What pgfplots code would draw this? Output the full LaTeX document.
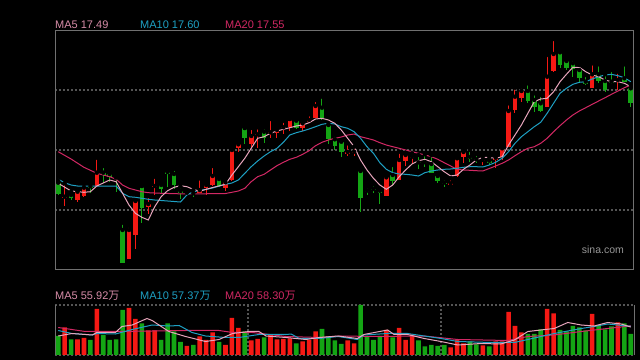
\documentclass[border=0pt]{standalone}
\usepackage{fontspec}
\setmainfont{Liberation Sans}
\newfontfamily\cjk{Noto Sans CJK SC}
\usepackage{pgfplots}
\usepackage{pgfplotstable}
\pgfplotsset{compat=1.18}

\definecolor{cred}{RGB}{245,25,20}
\definecolor{cgreen}{RGB}{20,165,20}
\definecolor{cma5}{RGB}{232,165,188}
\definecolor{cma5t}{RGB}{215,140,168}
\definecolor{cma10}{RGB}{30,160,195}
\definecolor{cma20}{RGB}{210,40,100}
\definecolor{cframe}{RGB}{112,112,112}
\definecolor{cgrid}{RGB}{85,85,85}

% candles: pixel rows (top of body, bottom of body, high, low)
\pgfplotstableread{
i top bot hi lo
1 196.7 198 183.3 205.7
3 191.7 200 190.7 202
4 187.7 195.7 184 197.3
6 172.7 186 157.7 186
11 230 258.7 226 258.7
12 201 234.7 200 249
14 204 206.7 196 214
15 186 187 176.7 195
20 192.7 193.7 190 196
22 190 193.3 178.3 193.3
23 185 188.3 182.3 195
24 176 185 166 185.7
26 182.3 188.3 178.3 190.7
27 150 180 147.3 181
28 144.3 148.3 141 152.3
30 136 144.3 128 147.7
31 134.3 135.3 127.3 147.7
33 132.3 133.3 119 138.3
34 130 132.7 127.3 138.3
35 127.3 128.3 120.7 134.3
36 119 127.3 119 131
38 123.3 128.3 120 131
39 120 121.7 114.3 123.3
40 106 117.7 100 118.3
45 152 153.7 143.3 156
46 151.7 152.7 146.7 156
51 177.3 195.7 175 195.7
53 160 180 151.7 180
54 155 160.7 152.7 166
55 156.7 157.7 153.3 164.3
61 183.3 185 178.3 185
62 158.3 176 157.7 176.7
63 152 156.7 149.3 163.3
66 160 161 156.7 165
68 157.7 160 155 168.3
69 148.3 156.7 146.7 160
70 111 146.7 103.3 146.7
71 96.7 110 87.7 113.3
72 91 98.3 86.7 101.7
76 76.7 106.7 55 106.7
77 54 71 39 72.3
83 74.3 87.7 63.3 88.3
87 80 82.3 71.7 90
}\redk

\pgfplotstableread{
i top bot hi lo
0 182.7 194 181 195
2 195 197.7 191.7 200
5 186.3 187.7 182.7 193.3
7 172.7 174.7 166 182.7
8 174 177.3 171.7 181.7
9 177.5 178.5 176.7 191.7
10 230 262.7 222.7 262.7
13 186 207.7 186 222.7
16 185 189 182.7 193.3
17 172 173.7 171 186.7
18 174 185 169 189.3
19 191 192.7 186.7 199.3
21 193.3 194.3 190 196.7
25 179 185.7 177.3 186.7
29 128 137.7 128 144.3
32 131.7 138.3 127.3 142.7
37 120.7 127.7 118.3 129.3
41 107.7 118.3 96.7 120
42 125 139.3 124.3 144.3
43 139.3 145.7 135 150
44 141.7 151.7 140 156.7
47 171 197.7 170 211.7
48 190.7 191.7 186.7 195
49 189 190 184.3 192.7
50 190.7 193.3 189 204
52 175 180.7 165 185
56 162.3 163.3 155 169.3
57 162.3 163.3 154.3 166.7
58 164 172.7 155 173.3
59 176 180.7 173.3 183.3
60 182.7 183.7 178.3 187.3
64 157 159 150 162.3
65 159.3 160.3 154 163.3
67 160.7 162.7 156.7 165
73 91 101 83.3 103.3
74 100 106.7 93.3 111.7
75 103.3 111 95 111.7
78 52.3 65 50 67.7
79 61 68.3 57.7 70
80 63.3 69.3 59 76.7
81 70 78.3 65 83.3
82 81.7 84.3 75 85
84 74.3 81 64.3 83.3
85 81 90 74.3 91.7
86 81.7 83.3 70 84.3
88 78.3 81.7 64.3 82.3
89 88.3 103.3 85 106.7
}\greenk

\pgfplotstableread{
i v
1 55
3 31
4 34
6 92
11 94
12 72
14 49
15 49
20 18
22 37
23 30
24 45
26 20
27 74
28 54
30 29
31 32
33 40
34 31
35 32
36 33
38 27
39 30
40 47
45 29
46 23
51 50
53 54
54 30
55 41
61 15
62 30
63 23
66 19
68 27
69 27
70 86
71 58
72 45
76 92
77 83
83 82
87 65
}\redv

\pgfplotstableread{
i v
0 38
2 31
5 30
7 40
8 30
9 31
10 90
13 63
16 30
17 63
18 47
19 26
21 20
25 26
29 47
32 35
37 23
41 52
42 37
43 29
44 22
47 100
48 37
49 30
50 38
52 35
56 29
57 17
58 20
59 18
60 20
64 27
65 21
67 17
73 42
74 42
75 51
78 50
79 47
80 58
81 55
82 49
84 58
85 51
86 57
88 63
89 42
}\greenv

\begin{document}
\begin{tikzpicture}
\fill[black] (0,0) rectangle (640bp,360bp);

% ---------- price panel ----------
\begin{axis}[
  at={(55bp,91bp)}, anchor=south west, scale only axis,
  width=579bp, height=239bp,
  xmin=-0.5, xmax=89.5, ymin=30, ymax=269, y dir=reverse,
  axis line style={draw=cframe, line width=1bp},
  xtick=\empty, ytick={90,150,210}, yticklabels={},
  major tick length=0pt,
  ymajorgrids, major grid style={draw=cgrid, line width=1.3bp, dash pattern=on 2bp off 2bp},
]
% wicks
\addplot[forget plot, only marks, mark=none,
  error bars/.cd, y dir=plus, y explicit, error mark=none,
  error bar style={draw=cred, line width=1bp}]
  table[x=i, y=hi, y error plus expr=\thisrow{lo}-\thisrow{hi}] {\redk};
\addplot[forget plot, only marks, mark=none,
  error bars/.cd, y dir=plus, y explicit, error mark=none,
  error bar style={draw=cgreen, line width=1bp}]
  table[x=i, y=hi, y error plus expr=\thisrow{lo}-\thisrow{hi}] {\greenk};
% bodies
\addplot[forget plot, only marks, mark=none,
  error bars/.cd, y dir=plus, y explicit, error mark=none,
  error bar style={draw=cred, line width=4.6bp}]
  table[x=i, y=top, y error plus expr=\thisrow{bot}-\thisrow{top}] {\redk};
\addplot[forget plot, only marks, mark=none,
  error bars/.cd, y dir=plus, y explicit, error mark=none,
  error bar style={draw=cgreen, line width=4.6bp}]
  table[x=i, y=top, y error plus expr=\thisrow{bot}-\thisrow{top}] {\greenk};
% MA20
\addplot[cma20, line width=1bp, mark=none] coordinates {
(0,151.7)(2,159)(4,167.3)(6,173.3)(8,176.7)(9,179.3)(10,185)(11,188.3)(12,190)(13,191.7)(14,192.7)(16,193.3)(20,194)(26,193.5)(27,192.3)(28,191)(29,188.3)(30,181.7)(31,176.7)(32,174.3)(33,170)(34,165.7)(35,162.3)(36,159.3)(37,157.3)(38,154.3)(39,150.7)(40,145.7)(41,142.3)(42,140)(43,138.3)(44,137)(45,135)(46,134)(47,136.7)(48,138.3)(49,140)(50,142.7)(51,145)(52,146.7)(53,148.3)(54,150)(55,151.7)(56,153.3)(57,155)(58,156.7)(59,159.3)(60,162.7)(61,166)(62,169.3)(63,170)(64,170.3)(65,170.7)(66,171)(67,168.5)(68,166)(69,163.3)(70,160)(71,155.7)(72,151.7)(73,148.3)(74,146.7)(75,143.3)(76,138.3)(77,131.7)(78,125.7)(79,120)(80,115)(81,111)(82,107.7)(83,104.3)(84,101)(85,97.7)(86,94.3)(87,91)(88,87.7)(89,85)};
% MA10
\addplot[cma10, line width=1bp, mark=none] coordinates {
(0,179.3)(1,182.7)(2,185)(3,186)(9,186)(10,193.3)(11,196.7)(12,197.3)(13,198.3)(14,199.3)(15,200)(17,201)(19,202)(20,195)(21,191.7)(22,190.5)(24,188)(26,184.3)(27,183)(28,180)(29,173.3)(30,166.7)(31,161)(32,156)(33,151.7)(34,148.3)(35,142.3)(36,135)(37,132.7)(38,131)(39,129)(40,126.7)(41,124.3)(42,123.3)(43,124)(44,126.7)(45,128.3)(46,131.7)(47,138.3)(48,146.7)(49,153.3)(50,162.7)(51,169.3)(52,172.7)(53,174)(54,174.3)(55,175)(56,176)(57,172.7)(58,171)(59,170)(60,169.3)(61,169)(62,168.3)(63,167.3)(64,166.7)(65,166.7)(66,167)(67,165)(68,162.3)(69,158.3)(70,151.7)(71,143.3)(72,136.7)(73,131.7)(74,126.7)(75,122.3)(76,113.3)(77,103.3)(78,93.3)(79,88.3)(80,84.3)(81,82.3)(82,81.7)(83,79)(84,76.7)(85,75)(86,74.3)(87,75.7)(88,77.7)(89,81.7)};
% MA5
\addplot[cma5, line width=1bp, mark=none] coordinates {
(0,183.3)(2,191)(4,192.3)(5,191.7)(6,186)(8,180)(9,181.7)(10,193.3)(11,205)(12,213.3)(13,217.3)(14,220)(15,206.7)(16,196.7)(17,190.7)(18,187.3)(19,185.7)(20,186.7)(21,189.3)(22,191.2)(24,187.5)(26,184.3)(27,175)(28,166.7)(29,158.3)(30,148.3)(31,138.3)(32,136.7)(33,133.3)(34,131)(35,129.3)(36,127.7)(37,126)(38,125)(39,122.7)(40,119)(41,118.3)(42,120)(43,123.3)(44,130)(45,138.3)(46,146.7)(47,160)(48,170)(49,178.3)(50,185)(51,189.3)(52,185)(53,176.7)(54,170)(55,164)(56,160.7)(57,159.3)(58,161.7)(59,166.7)(60,171.7)(61,176)(62,175)(63,169.3)(64,165)(65,160)(66,157.3)(67,157.5)(68,158.3)(69,156.7)(70,145)(71,135)(72,125)(73,113.3)(74,101.7)(75,99)(76,98.3)(77,91.7)(78,81.7)(79,74.3)(80,67.3)(81,67.3)(82,71.7)(83,75)(84,76.7)(85,80)(86,81.7)(87,81.7)(88,83.3)(89,86.7)};
\end{axis}

% ---------- volume panel ----------
\begin{axis}[
  at={(55bp,5bp)}, anchor=south west, scale only axis,
  width=579bp, height=50bp,
  xmin=-0.5, xmax=89.5, ymin=0, ymax=100,
  separate axis lines,
  x axis line style={draw=cgrid, line width=1.3bp, dash pattern=on 2bp off 2bp},
  y axis line style={draw=cframe, line width=1bp},
  xtick={29.5,59.5}, xticklabels={}, ytick=\empty,
  major tick length=0pt,
  xmajorgrids, major grid style={draw=cgrid, line width=1.3bp, dash pattern=on 2bp off 2bp},
]
\addplot[ybar, bar width=4.6bp, bar shift=0pt, fill=cred, draw=none] table[x=i, y=v] {\redv};
\addplot[ybar, bar width=4.6bp, bar shift=0pt, fill=cgreen, draw=none] table[x=i, y=v] {\greenv};
\addplot[cma20, line width=1bp, mark=none] coordinates {
(0,55)(4.2,47)(9.4,47)(14.6,48)(19.8,49)(25,49)(27.1,45)(30.2,45)(35.4,37)(40.6,35)(43.9,38)(49.1,37)(56.9,38)(62.1,31)(69.9,29)(73,37)(77.1,40)(81.3,47)(85.4,53)(89,58.3)};
\addplot[cma10, line width=1bp, mark=none] coordinates {
(0,49)(2.15,43)(5.3,40)(6,43)(8.9,42)(11.5,51)(14.6,60)(17.2,58)(18.8,59)(20.8,45)(22.9,38)(26,35)(28.1,35)(31.2,41)(35.4,41)(36.2,42)(37.5,33)(40.6,33)(43.5,37)(46.5,31)(47.5,40)(51.2,43)(54.3,43)(59.5,33)(62.1,27)(67.3,25)(70.9,25)(73,31)(77.1,43)(81.3,53)(83.3,57)(85.4,62)(89,57.4)};
\addplot[cma5, line width=1bp, mark=none] coordinates {
(0,38)(2.15,43)(5.3,40)(6,45)(8.9,45)(9.9,57)(11.5,60)(13.8,73)(14.6,69)(17.2,47)(19.8,37)(22.9,27)(25,31)(27.1,43)(29.7,47)(31.2,47)(32.3,38)(35.4,35)(38.5,31)(40.6,35)(43.5,38)(46.5,33)(47.5,41)(51.2,50)(52.2,41)(54.3,41)(56.9,33)(59.5,27)(62.1,20)(65.7,23)(68.8,22)(70.9,30)(73,47)(75,50)(77.1,53)(79.2,65)(81.3,60)(83.3,58)(85.4,65)(87.5,62)(89,55.9)};
\end{axis}

% ---------- texts ----------
\begin{scope}[every node/.style={anchor=base west, inner sep=0pt, font=\fontsize{11bp}{13bp}\selectfont}]
\node[text=cma5t] at (55bp,331.7bp) {MA5 17.49};
\node[text=cma10] at (140bp,331.7bp) {MA10 17.60};
\node[text=cma20] at (225bp,331.7bp) {MA20 17.55};
\node[text=cma5t] at (55bp,60.7bp) {MA5 55.92{\cjk 万}};
\node[text=cma10] at (140bp,60.7bp) {MA10 57.37{\cjk 万}};
\node[text=cma20] at (225bp,60.7bp) {MA20 58.30{\cjk 万}};
\end{scope}
\node[anchor=base west, inner sep=0pt, text={rgb,255:red,150;green,150;blue,150}, font=\fontsize{10.5bp}{12bp}\selectfont] at (581.7bp,106.7bp) {sina.com};

\pgfresetboundingbox
\useasboundingbox (0,0) rectangle (640bp,360bp);
\end{tikzpicture}
\end{document}
